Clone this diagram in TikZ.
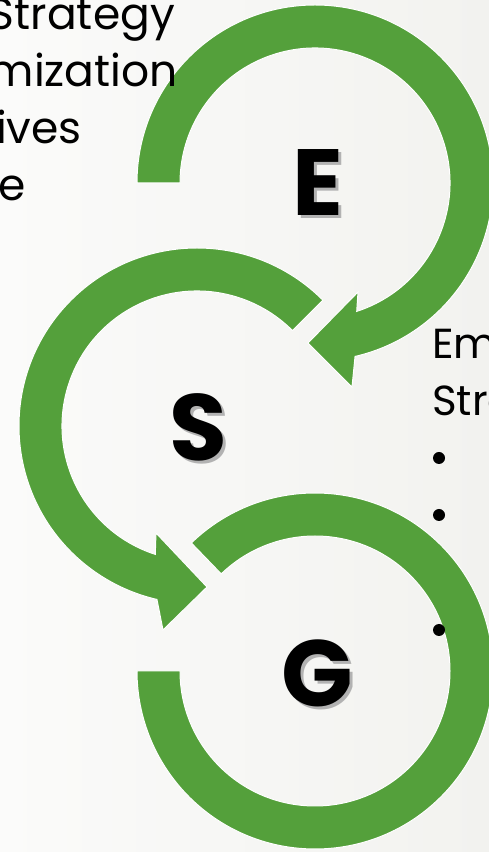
\documentclass[tikz,border=0pt]{standalone}
\usepackage{fontspec}
\setmainfont{Poppins}
\usepackage{tikz}
\usetikzlibrary{arrows}
\usepackage{xcolor}
\definecolor{loopgreen}{RGB}{84,160,59}
\definecolor{paper}{RGB}{251,251,250}
\definecolor{papergrey}{RGB}{242,242,239}

\begin{document}
\begin{tikzpicture}[x=1pt,y=1pt,>=stealth',
  loop/.style={fill=loopgreen,draw=white,line width=1pt},
  letter/.style={font=\fontsize{94}{94}\selectfont\bfseries,inner sep=0pt},
  shadow/.style={letter,text=black!30},
  sidetext/.style={font=\fontsize{44}{57}\selectfont,inner sep=0pt},
  bullet/.style={circle,fill=black,inner sep=0pt,minimum size=12pt}]
%%%PAGE
\useasboundingbox (0,0) rectangle (489,852);
\clip (0,0) rectangle (489,852);
\shade[left color=paper,right color=papergrey] (0,0) rectangle (489,852);
%%%CENTRES
\coordinate (Ec) at (315,669);
\coordinate (Sc) at (197,426);
\coordinate (Gc) at (315,181);
%%%LOOPS
\filldraw[loop] ([shift={(Ec)}]180:178) arc[start angle=180, end angle=-77, radius=178]
  -- ([shift={(Ec)}]37,-204) -- ([shift={(Ec)}]-7,-160) -- ([shift={(Ec)}]43,-109)
  -- ([shift={(Ec)}]-72:135) arc[start angle=-72, end angle=180, radius=135] -- cycle;
\filldraw[loop] ([shift={(Sc)}]45:178) arc[start angle=45, end angle=257, radius=178]
  -- ([shift={(Sc)}]-34,-204) -- ([shift={(Sc)}]10,-161) -- ([shift={(Sc)}]-41,-107)
  -- ([shift={(Sc)}]252:135) arc[start angle=252, end angle=45, radius=135] -- cycle;
\filldraw[loop] ([shift={(Gc)}]134:178) arc[start angle=134, end angle=-180, radius=178]
  -- ([shift={(Gc)}]-180:135) arc[start angle=-180, end angle=134, radius=135] -- cycle;
%%%LETTERS
\node[shadow] (Eshad) at (321,666) {E};
\node[letter] (E) at (318,669) {E};
\node[shadow] (Sshad) at (201,422) {S};
\node[letter] (S) at (198,425) {S};
\node[shadow] (Gshad) at (320,176) {G};
\node[letter] (G) at (317,179) {G};
%%%TEXT
\node[sidetext,anchor=base east] (strat) at (175,822) {Strategy};
\node[sidetext,anchor=base east] (optim) at (178,765) {mization};
\node[sidetext,anchor=base east] (initv) at (82,708) {ives};
\node[sidetext,anchor=base east] (tail) at (26,651) {e};
\node[sidetext,anchor=base west,font=\fontsize{42}{57}\selectfont] (emph) at (432,493) {Em};
\node[sidetext,anchor=base west,font=\fontsize{42}{57}\selectfont] (stra) at (432,436) {Stra};
\node[bullet] (bul1) at (439,394) {};
\node[bullet] (bul2) at (439,337) {};
\node[bullet] (bul3) at (439,222) {};
\end{tikzpicture}
\end{document}
